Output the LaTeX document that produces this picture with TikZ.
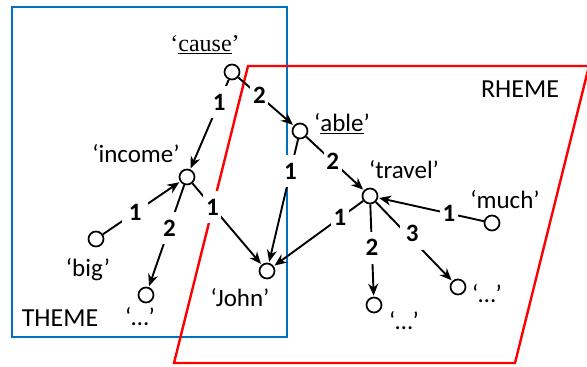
\documentclass[tikz,border=0pt]{standalone}
\usepackage{fontspec}
\setmainfont{Carlito}
\newfontfamily\serifface{Liberation Serif}
\usetikzlibrary{arrows.meta}
\definecolor{themeblue}{RGB}{0,112,192}
\definecolor{rhemered}{RGB}{255,0,0}
\tikzset{
  vert/.style={circle,draw,line width=1.7pt,minimum size=15pt,inner sep=0pt,fill=white},
  word/.style={inner sep=0pt,font=\fontsize{25}{27}\selectfont},
  edge/.style={line width=1.9pt,-{Stealth[length=12pt,width=10pt]},shorten >=1pt},
  lbl/.style={fill=white,inner sep=0pt,minimum width=18pt,minimum height=32pt,font=\fontsize{25}{27}\selectfont\bfseries},
}
\begin{document}
\begin{tikzpicture}[x=1pt,y=-1pt]
\useasboundingbox (0,0) rectangle (587,367);
% regions
\draw[themeblue,line width=2.4pt] (12,7) rectangle (287,337);
\draw[rhemered,line width=2.4pt] (248,66) -- (589,66) -- (515,363) -- (174,363) -- cycle;
\node[word,font=\fontsize{26}{28}\selectfont] (themelbl) at (60,318) {THEME};
\node[word,font=\fontsize{26}{28}\selectfont] (rhemelbl) at (520,89) {RHEME};
% vertices
\node[vert] (cause) at (232,72) {};
\node[vert] (able) at (300,131) {};
\node[vert] (income) at (187,177) {};
\node[vert] (travel) at (370,196) {};
\node[vert] (much) at (492,223) {};
\node[vert] (big) at (96,239) {};
\node[vert] (dotsa) at (146,295) {};
\node[vert] (john) at (267,271) {};
\node[vert] (dotsb) at (374,305) {};
\node[vert] (dotsc) at (458,287) {};
% words
\node[word,font=\serifface\fontsize{24}{26}\selectfont] (causelbl) at (205,45) {‘\underline{cause}’};
\node[word] (ablelbl) at (342,124) {‘\underline{able}’};
\node[word] (incomelbl) at (136,154) {‘income’};
\node[word] (travellbl) at (404,170) {‘travel’};
\node[word] (muchlbl) at (505,200) {‘much’};
\node[word] (biglbl) at (88,270) {‘big’};
\node[word] (johnlbl) at (240,298) {‘John’};
\node[word] (dotsalbl) at (140,317) {‘…’};
\node[word] (dotsblbl) at (404,321) {‘…’};
\node[word] (dotsclbl) at (487,294) {‘…’};
% edges
\draw[edge] (cause) -- node[lbl,pos=0.25] {1} (income);
\draw[edge] (cause) -- node[lbl,pos=0.38] {2} (able);
\draw[edge] (income) -- node[lbl,pos=0.29] {1} (john);
\draw[edge] (big) -- node[lbl,pos=0.42,minimum width=26pt] {1} (income);
\draw[edge] (income) -- node[lbl,pos=0.42] {2} (dotsa);
\draw[edge] (able) -- node[lbl,pos=0.26] {1} (john);
\draw[edge] (able) -- node[lbl,pos=0.46] {2} (travel);
\draw[edge] (travel) -- node[lbl,pos=0.26] {1} (john);
\draw[edge] (travel) -- node[lbl,pos=0.47] {2} (dotsb);
\draw[edge] (travel) -- node[lbl,pos=0.45,xshift=2pt,yshift=4pt,minimum width=24pt] {3} (dotsc);
\draw[edge] (much) -- node[lbl,pos=0.33] {1} (travel);
\end{tikzpicture}
\end{document}
